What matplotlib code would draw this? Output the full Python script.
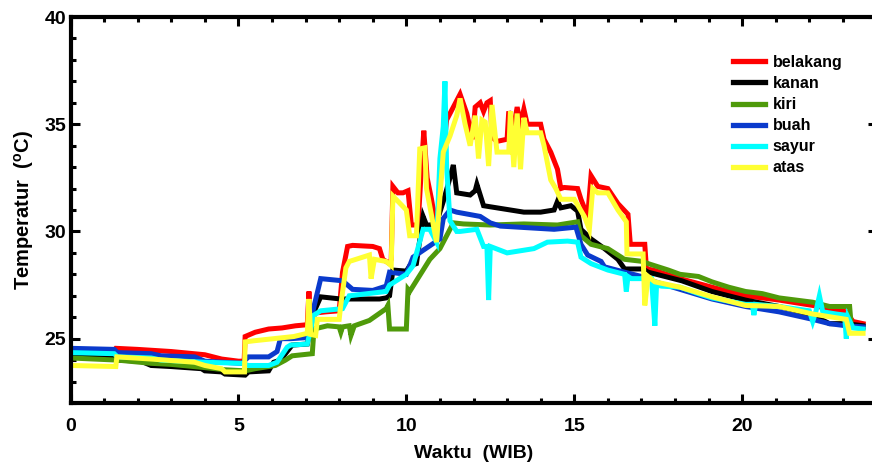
import numpy as np
import matplotlib
matplotlib.use("Agg")
import matplotlib.pyplot as plt
from matplotlib.ticker import MultipleLocator

# (jam, suhu) pairs
belakang = [(0, 24.5), (1.3, 24.45), (1.35, 24.55), (2.0, 24.5), (3.0, 24.4), (4.0, 24.25),
            (4.5, 24.05), (5.0, 23.95), (5.17, 23.95), (5.2, 25.1), (5.5, 25.3), (5.9, 25.45),
            (6.3, 25.5), (6.7, 25.6), (7.05, 25.65), (7.1, 27.2), (7.15, 25.8), (7.3, 26.2),
            (7.6, 26.25), (8.0, 26.3), (8.1, 28.1), (8.25, 29.3), (8.4, 29.35), (9.0, 29.3),
            (9.2, 29.2), (9.3, 28.7), (9.5, 28.5), (9.55, 28.7), (9.6, 32.1), (9.75, 31.8),
            (9.9, 31.8), (10.05, 31.9), (10.15, 30.3), (10.35, 30.3), (10.45, 33.0), (10.52, 34.7),
            (10.62, 32.5), (10.75, 31.5), (10.9, 30.1), (11.05, 33.0), (11.2, 35.2), (11.4, 35.8),
            (11.6, 36.4), (11.8, 35.5), (11.97, 34.3), (12.05, 35.8), (12.2, 36.0), (12.3, 35.6),
            (12.4, 36.0), (12.5, 36.1), (12.55, 34.4), (12.7, 34.2), (13.0, 34.3), (13.05, 35.6),
            (13.2, 34.9), (13.3, 35.8), (13.4, 35.0), (13.5, 35.7), (13.6, 35.0), (14.0, 35.0),
            (14.1, 34.3), (14.3, 33.7), (14.5, 32.9), (14.6, 32.0), (14.7, 32.05), (15.1, 32.0),
            (15.2, 31.5), (15.4, 30.7), (15.5, 32.6), (15.7, 32.1), (16.0, 32.0), (16.3, 31.3),
            (16.6, 30.8), (16.67, 29.4), (17.1, 29.4), (17.15, 28.25), (17.35, 28.2), (18.15, 27.8),
            (19.1, 27.4), (20.1, 27.0), (21.1, 26.8), (22.1, 26.55), (23.1, 26.25), (23.3, 25.8),
            (23.6, 25.7)]

kanan = [(0, 24.15), (1.3, 24.1), (1.4, 24.0), (2.1, 23.95), (2.4, 23.75), (3.0, 23.7),
         (3.9, 23.6), (4.0, 23.5), (4.5, 23.45), (4.6, 23.35), (5.2, 23.3), (5.3, 23.45),
         (5.9, 23.5), (6.05, 23.9), (6.25, 24.0), (6.45, 24.4), (6.6, 24.7), (7.05, 24.75),
         (7.25, 26.25), (7.45, 26.95), (8.05, 26.85), (8.35, 26.85), (9.2, 26.85), (9.4, 26.9),
         (9.5, 27.0), (9.6, 28.2), (10.0, 28.15), (10.1, 28.4), (10.3, 28.5), (10.5, 30.7),
         (10.6, 30.3), (10.7, 30.3), (10.9, 30.4), (11.1, 31.4), (11.3, 32.5), (11.4, 33.1),
         (11.5, 31.8), (11.9, 31.7), (12.05, 31.9), (12.1, 32.2), (12.3, 31.2), (12.9, 31.05),
         (13.5, 30.9), (14.0, 30.9), (14.4, 31.0), (14.5, 31.4), (14.6, 31.1), (14.9, 31.2),
         (15.1, 30.95), (15.2, 30.1), (15.4, 29.8), (15.5, 29.65), (15.9, 29.2), (16.3, 28.7),
         (16.5, 28.25), (17.05, 28.25), (17.2, 28.1), (17.7, 27.9), (18.2, 27.7), (19.1, 27.2),
         (20.1, 26.8), (21.1, 26.5), (22.1, 26.1), (22.6, 25.7), (23.1, 25.7), (23.6, 25.6)]

kiri = [(0, 24.1), (1.4, 24.0), (2.4, 23.85), (3.0, 23.8), (4.0, 23.65), (4.6, 23.55),
        (5.2, 23.5), (5.5, 23.6), (6.1, 23.75), (6.4, 24.0), (6.6, 24.2), (7.2, 24.3),
        (7.25, 25.45), (7.65, 25.6), (8.0, 25.55), (8.05, 25.3), (8.1, 25.55), (8.3, 25.6),
        (8.35, 25.15), (8.45, 25.6), (8.9, 25.85), (9.4, 26.4), (9.45, 26.55), (9.5, 25.45),
        (10.0, 25.45), (10.05, 27.3), (10.1, 27.2), (10.7, 28.7), (11.0, 29.2), (11.2, 29.8),
        (11.4, 30.4), (11.7, 30.35), (12.5, 30.3), (13.5, 30.35), (14.5, 30.3), (15.1, 30.45),
        (15.2, 29.8), (15.5, 29.4), (16.0, 29.2), (16.5, 28.7), (17.05, 28.6), (17.2, 28.5),
        (17.8, 28.2), (18.15, 28.0), (18.7, 27.9), (19.1, 27.65), (19.6, 27.4), (20.1, 27.2),
        (20.6, 27.1), (21.1, 26.9), (21.6, 26.8), (22.1, 26.7), (22.6, 26.5), (23.2, 26.5),
        (23.25, 25.55), (23.6, 25.5)]

buah = [(0, 24.55), (1.3, 24.5), (1.4, 24.35), (2.4, 24.3), (2.7, 24.2), (3.7, 24.15),
        (4.0, 23.95), (5.1, 23.85), (5.3, 24.15), (5.9, 24.15), (6.15, 24.4), (6.25, 25.0),
        (6.55, 25.0), (7.05, 25.05), (7.25, 26.5), (7.45, 27.8), (8.1, 27.7), (8.4, 27.3),
        (9.0, 27.25), (9.4, 27.45), (9.5, 28.1), (10.0, 28.0), (10.2, 28.8), (11.0, 29.65),
        (11.1, 30.6), (11.3, 31.0), (11.5, 30.9), (12.2, 30.7), (12.5, 30.4), (12.8, 30.25),
        (14.4, 30.1), (15.05, 30.2), (15.2, 29.4), (15.4, 28.9), (15.8, 28.6), (15.9, 28.35),
        (16.5, 28.1), (17.0, 27.9), (17.2, 27.75), (18.15, 27.3), (19.1, 26.85), (20.1, 26.5),
        (21.1, 26.25), (22.1, 25.9), (22.6, 25.7), (23.1, 25.6), (23.6, 25.55)]

sayur = [(0, 24.35), (1.3, 24.3), (1.4, 24.15), (2.4, 24.1), (2.7, 24.0), (4.0, 23.9),
         (5.1, 23.85), (5.3, 23.75), (5.9, 23.75), (6.15, 23.9), (6.45, 24.6), (6.55, 24.7),
         (7.05, 24.75), (7.25, 26.1), (7.45, 26.3), (8.1, 26.4), (8.3, 27.0), (9.4, 27.2),
         (9.5, 27.5), (10.0, 28.0), (10.2, 28.4), (10.5, 30.1), (10.7, 30.1), (10.9, 29.5),
         (11.0, 33.4), (11.1, 34.9), (11.15, 37.0), (11.2, 33.0), (11.3, 30.5), (11.5, 30.0),
         (11.6, 30.0), (12.1, 30.1), (12.3, 29.3), (12.4, 29.3), (12.45, 26.8), (12.5, 29.3),
         (13.0, 29.0), (13.8, 29.2), (14.2, 29.5), (14.8, 29.55), (15.1, 29.5), (15.2, 28.8),
         (15.5, 28.5), (16.0, 28.2), (16.5, 28.0), (16.55, 27.2), (16.6, 27.9), (16.7, 27.8),
         (17.3, 27.8), (17.4, 25.6), (17.45, 27.5), (17.6, 27.45), (18.15, 27.4), (18.7, 27.1),
         (19.1, 26.9), (20.1, 26.6), (20.3, 26.6), (20.35, 26.1), (20.4, 26.6), (21.1, 26.5),
         (22.0, 26.3), (22.1, 25.8), (22.2, 26.3), (22.3, 27.0), (22.4, 26.25), (22.8, 26.15),
         (23.05, 26.1), (23.1, 25.0), (23.15, 26.0), (23.3, 25.5), (23.6, 25.45)]

atas = [(0, 23.75), (1.35, 23.7), (1.38, 24.15), (2.4, 24.05), (3.7, 23.9), (4.0, 23.75),
        (4.5, 23.6), (4.6, 23.45), (5.18, 23.45), (5.2, 24.85), (5.45, 24.9), (6.65, 25.1),
        (7.05, 25.25), (7.1, 26.85), (7.15, 25.2), (7.3, 25.15), (7.35, 25.9), (8.0, 25.9),
        (8.05, 26.6), (8.2, 28.3), (8.3, 28.6), (8.9, 28.9), (8.95, 27.8), (9.05, 28.7),
        (9.4, 28.6), (9.55, 28.4), (9.6, 31.65), (10.0, 31.0), (10.1, 29.8), (10.3, 29.8),
        (10.4, 33.85), (10.55, 33.9), (10.6, 32.0), (10.9, 29.5), (11.1, 33.7), (11.3, 34.45),
        (11.5, 35.4), (11.6, 36.2), (11.75, 35.0), (11.9, 34.0), (12.05, 35.4), (12.15, 33.4),
        (12.25, 35.2), (12.35, 35.1), (12.45, 33.05), (12.55, 35.9), (12.7, 33.7), (13.05, 33.7),
        (13.1, 35.6), (13.2, 33.0), (13.3, 35.5), (13.4, 32.9), (13.5, 35.3), (13.6, 34.6),
        (14.0, 34.6), (14.1, 34.0), (14.3, 32.4), (14.45, 32.0), (14.6, 31.5), (15.0, 31.5),
        (15.3, 30.7), (15.45, 30.1), (15.55, 32.0), (15.7, 31.8), (16.0, 31.8), (16.3, 31.0),
        (16.55, 30.45), (16.57, 28.95), (17.05, 28.95), (17.1, 26.55), (17.2, 27.9),
        (17.4, 27.65), (18.15, 27.4), (19.1, 26.95), (20.1, 26.55), (21.1, 26.5), (22.1, 26.15),
        (23.1, 25.9), (23.2, 25.25), (23.6, 25.25)]

series = ["belakang", "kanan", "kiri", "buah", "sayur", "atas"]
data = [belakang, kanan, kiri, buah, sayur, atas]
colors = ["#ff0000", "#000000", "#4f9a0a", "#0a3acc", "#00ffff", "#ffff33"]

plt.rcParams['font.family'] = ['Liberation Sans', 'DejaVu Sans']
plt.rcParams['font.weight'] = 'bold'
plt.rcParams['mathtext.fontset'] = 'custom'
plt.rcParams['mathtext.rm'] = 'Liberation Sans:bold'
plt.rcParams['mathtext.it'] = 'Liberation Sans:bold'
plt.rcParams['mathtext.bf'] = 'Liberation Sans:bold'

fig = plt.figure(figsize=(8.72, 4.65), dpi=100)
ax = fig.add_axes([70.5 / 872, 62 / 465, 806 / 872, 386 / 465])

for name, pts, c in zip(series, data, colors):
    arr = np.array(pts)
    ax.plot(arr[:, 0], arr[:, 1], color=c, lw=3.6, label=name, solid_joinstyle='miter')

ax.set_xlim(0, 24)
ax.set_ylim(22, 40)
ax.xaxis.set_major_locator(MultipleLocator(5))
ax.xaxis.set_minor_locator(MultipleLocator(1))
ax.yaxis.set_major_locator(MultipleLocator(5))
ax.yaxis.set_minor_locator(MultipleLocator(1))
ax.tick_params(which='both', direction='in', top=True, right=True, width=2.2, labelsize=14)
ax.tick_params(which='major', length=6.5)
ax.tick_params(which='minor', length=3.5, right=False)
ax.tick_params(axis='x', pad=11)
ax.tick_params(axis='y', pad=3)
for sp in ax.spines.values():
    sp.set_linewidth(3)
for lab in ax.get_xticklabels() + ax.get_yticklabels():
    lab.set_fontweight('bold')

ax.set_xlabel('Waktu  (WIB)', fontsize=14, fontweight='bold', labelpad=7)
ax.set_ylabel(r'Temperatur  ($^{\mathrm{o}}$C)', fontsize=14.5, fontweight='bold', labelpad=6)

leg = ax.legend(loc='upper left', bbox_to_anchor=((733 - 70.5) / 806, (403 - 55) / 386),
                frameon=False, fontsize=11.5, handlelength=2.0, handletextpad=0.5,
                labelspacing=0.38, borderpad=0, borderaxespad=0)
for t in leg.get_texts():
    t.set_fontweight('bold')
for h in leg.get_lines():
    h.set_linewidth(3.8)

fig.savefig('out.png', dpi=100)
